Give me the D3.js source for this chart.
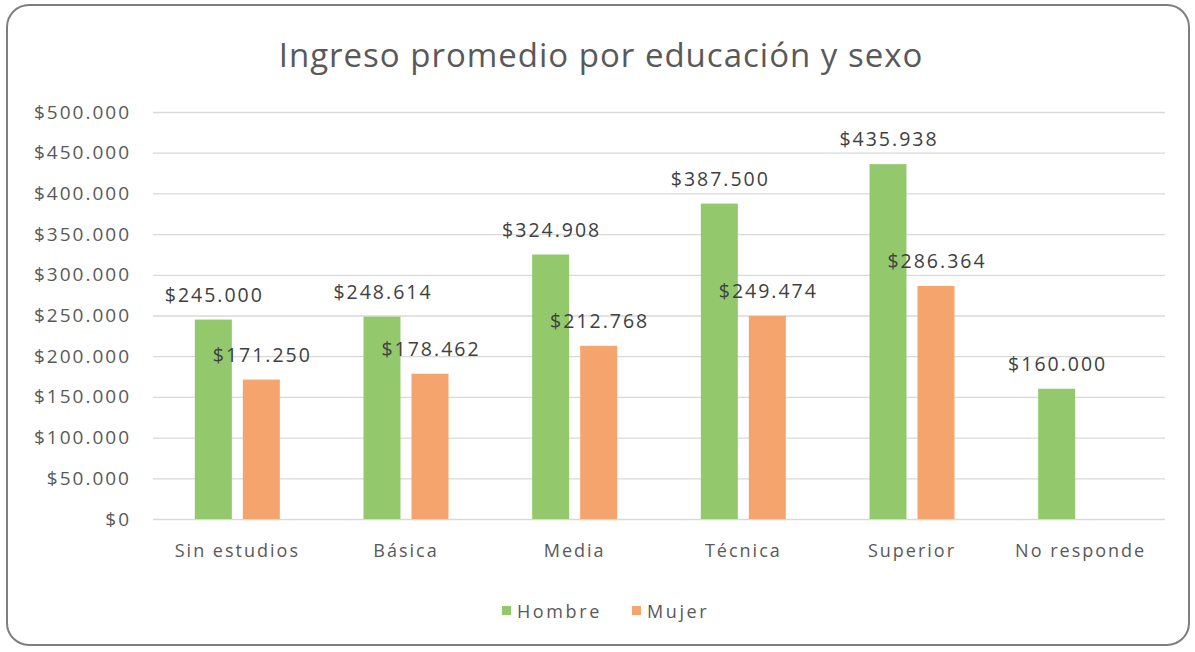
<!DOCTYPE html>
<html><head><meta charset="utf-8">
<script src="https://cdn.jsdelivr.net/npm/d3@7"></script>
<style>body{margin:0;background:#fff;}svg{display:block;font-family:"Open Sans",sans-serif;}</style>
</head><body><svg id="c" width="1195" height="652"></svg>
<script>
const categories=["Sin estudios","Básica","Media","Técnica","Superior","No responde"];
const hombre=[245000,248614,324908,387500,435938,160000];
const mujer=[171250,178462,212768,249474,286364,null];
const seriesNames=["Hombre","Mujer"];
const seriesColors=["#93c96c","#f5a46d"];
const yTicks=[0,50000,100000,150000,200000,250000,300000,350000,400000,450000,500000];

const svg=d3.select("#c");
svg.append("rect").attr("x",7).attr("y",5).attr("width",1182).attr("height",640).attr("rx",22)
  .attr("fill","#fff").attr("stroke","#7f7f7f").attr("stroke-width",2);
svg.append("text").attr("x",601).attr("y",67).attr("text-anchor","middle").attr("font-size",33)
  .attr("letter-spacing",1).attr("fill","#595959").text("Ingreso promedio por educación y sexo");

const fmt=v=>"$"+d3.format(",")(v).replace(/,/g,".");
const x=d3.scaleBand().domain(categories).range([153,1165]);
const y=d3.scaleLinear().domain([0,500000]).range([519,112]);

const yAxis=svg.append("g").attr("transform","translate(153,0)")
  .call(d3.axisLeft(y).tickValues(yTicks).tickSize(-(1165-153)).tickFormat(fmt).tickPadding(22));
yAxis.select(".domain").remove();
yAxis.selectAll("line").attr("stroke","#d9d9d9").attr("stroke-width",1.3);
yAxis.selectAll("text").attr("font-size",19).attr("letter-spacing",2).attr("fill","#595959").attr("font-family","'Open Sans',sans-serif");

const xAxis=svg.append("g").attr("transform","translate(0,519)")
  .call(d3.axisBottom(x).tickSize(0).tickPadding(25));
xAxis.select(".domain").remove();
xAxis.selectAll("text").attr("font-size",18).attr("letter-spacing",2).attr("fill","#595959").attr("font-family","'Open Sans',sans-serif");

const bw=37, gap=11;
const data=[hombre,mujer];
data.forEach((s,i)=>{
  const off=i===0? -gap/2-bw : gap/2;
  const g=svg.append("g");
  categories.forEach((c,j)=>{
    const v=s[j]; if(v==null) return;
    const cx=x(c)+x.bandwidth()/2+off;
    g.append("rect").attr("x",cx).attr("y",y(v)).attr("width",bw).attr("height",y(0)-y(v)).attr("fill",seriesColors[i]);
    g.append("text").attr("x",cx+bw/2+1).attr("y",y(v)-18).attr("text-anchor","middle")
      .attr("font-size",19.5).attr("letter-spacing",2).attr("fill","#404040").text(fmt(v));
  });
});

const leg=svg.append("g");
const lx=[502,632];
seriesNames.forEach((n,i)=>{
  leg.append("rect").attr("x",lx[i]).attr("y",606).attr("width",9).attr("height",9).attr("fill",seriesColors[i]);
  leg.append("text").attr("x",lx[i]+15).attr("y",618).attr("font-size",18).attr("letter-spacing",2.6).attr("fill","#595959").text(n);
});
</script></body></html>
